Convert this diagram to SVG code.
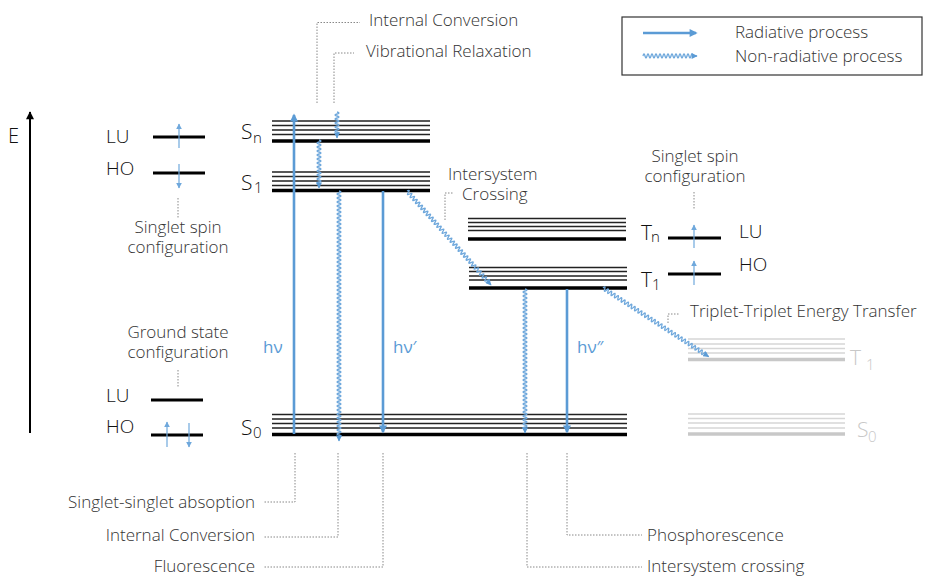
<svg xmlns="http://www.w3.org/2000/svg" width="927" height="577" viewBox="0 0 927 577">
<style>
text{font-family:"Open Sans","Liberation Sans",sans-serif;font-weight:300;fill:#333;font-size:17px}
.lbl{font-size:19px;fill:#111}
.st{font-size:21px;fill:#111}
.sub{font-size:15px}
.hv{fill:#5b9bd5;font-weight:400}
.grey{fill:#c8c8c8}
.thin{stroke:#222;stroke-width:1.3;fill:none}
.thick{stroke:#000;stroke-width:3.3;fill:none}
.gthin{stroke:#d6d6d6;stroke-width:1.3;fill:none}
.gthick{stroke:#c8c8c8;stroke-width:3.3;fill:none}
.lvl{stroke:#000;stroke-width:3;fill:none}
.rad{stroke:#5b9bd5;stroke-width:2.6;fill:none;marker-end:url(#ah)}
.wave{stroke:#6fa8dc;stroke-width:1.3;fill:none;marker-end:url(#wh)}
.spin{stroke:#6fa8dc;stroke-width:1.2;fill:none;marker-end:url(#sh)}
.lead{stroke:#888;stroke-width:1;stroke-dasharray:1.5 1.5;fill:none}
</style>
<defs>
<marker id="ah" viewBox="0 0 10 10" refX="8" refY="5" markerWidth="9" markerHeight="8" markerUnits="userSpaceOnUse" orient="auto"><path d="M0,0L10,5L0,10z" fill="#5b9bd5"/></marker>
<marker id="wh" viewBox="0 0 10 10" refX="9" refY="5" markerWidth="7" markerHeight="6" markerUnits="userSpaceOnUse" orient="auto"><path d="M0,0L10,5L0,10z" fill="#5b9bd5"/></marker>
<marker id="sh" viewBox="0 0 10 10" refX="9" refY="5" markerWidth="6" markerHeight="6" markerUnits="userSpaceOnUse" orient="auto"><path d="M0,0L10,5L0,10z" fill="#6fa8dc"/></marker>
<marker id="eh" viewBox="0 0 10 10" refX="9" refY="5" markerWidth="10" markerHeight="8" markerUnits="userSpaceOnUse" orient="auto"><path d="M0,0L10,5L0,10z" fill="#000"/></marker>
<path id="w126" class="wave" d="M0,0q1,-4 2,0t2,0 2,0 2,0 2,0 2,0 2,0 2,0 2,0 2,0 2,0 2,0 2,0 2,0 2,0 2,0 2,0 2,0 2,0 2,0 2,0 2,0 2,0 2,0 2,0 2,0 2,0 2,0 2,0 2,0 2,0 2,0 2,0 2,0 2,0 2,0 2,0 2,0 2,0 2,0 2,0 2,0 2,0 2,0 2,0 2,0 2,0 2,0 2,0 2,0 2,0 2,0 2,0 2,0 2,0 2,0 2,0 2,0 2,0 2,0 2,0l4,0"/>
</defs>

<g id="legend">
<rect x="622" y="17" width="300" height="58" fill="#fff" stroke="#333" stroke-width="1.2"/>
<line class="rad" x1="643" y1="33" x2="696" y2="33"/>
<path class="wave" transform="translate(643,56)" d="M0,0q1,-4 2,0t2,0 2,0 2,0 2,0 2,0 2,0 2,0 2,0 2,0 2,0 2,0 2,0 2,0 2,0 2,0 2,0 2,0 2,0 2,0 2,0 2,0 2,0 2,0 2,0l4,0"/>
<text x="735" y="38">Radiative process</text>
<text x="735" y="62">Non-radiative process</text>
</g>

<g id="energy-axis">
<line x1="30" y1="433" x2="30" y2="112" stroke="#000" stroke-width="2" marker-end="url(#eh)"/>
<text class="lbl" x="8" y="143" style="font-size:20px">E</text>
</g>

<g id="singlet-config">
<text class="lbl" x="106" y="143">LU</text>
<text class="lbl" x="106" y="175">HO</text>
<path class="lvl" d="M153,137H205M153,173H205"/>
<line class="spin" x1="179" y1="148" x2="179" y2="124"/>
<line class="spin" x1="179" y1="164" x2="179" y2="188"/>
<text x="178" y="233" text-anchor="middle">Singlet spin</text>
<text x="178" y="253" text-anchor="middle">configuration</text>
</g>

<g id="ground-config">
<text x="178" y="338" text-anchor="middle">Ground state</text>
<text x="178" y="358" text-anchor="middle">configuration</text>
<text class="lbl" x="106" y="402">LU</text>
<text class="lbl" x="106" y="433">HO</text>
<path class="lvl" d="M151,400H203M151,435H203"/>
<line class="spin" x1="167" y1="447" x2="167" y2="422"/>
<line class="spin" x1="189" y1="423" x2="189" y2="447"/>
</g>

<g id="Sn">
<path class="thin" d="M272,121H430M272,125.5H430M272,130H430M272,134.5H430"/>
<path class="thick" d="M272,141H430"/>
<text class="st" x="241" y="139">S</text><text class="st sub" x="253" y="143">n</text>
</g>

<g id="S1">
<path class="thin" d="M272,172H430M272,176.5H430M272,181H430M272,185.5H430"/>
<path class="thick" d="M272,190.5H430"/>
<text class="st" x="241" y="190">S</text><text class="st sub" x="254" y="193">1</text>
</g>

<g id="S0">
<path class="thin" d="M272,414.5H627M272,419H627M272,423.5H627M272,428H627"/>
<path class="thick" d="M272,434.5H627"/>
<text class="st" x="241" y="435">S</text><text class="st sub" x="253" y="438">0</text>
</g>

<g id="Tn">
<path class="thin" d="M468,218.5H626M468,222.5H626M468,226.5H626M468,230.5H626"/>
<path class="thick" d="M468,239H626"/>
<text class="st" x="641" y="240">T</text><text class="st sub" x="651" y="242">n</text>
</g>

<g id="T1">
<path class="thin" d="M469,267.5H627M469,271.5H627M469,276H627M469,280H627"/>
<path class="thick" d="M469,288H627"/>
<text class="st" x="641" y="287">T</text><text class="st sub" x="652" y="290">1</text>
</g>

<g id="triplet-config">
<text x="695" y="162" text-anchor="middle">Singlet spin</text>
<text x="695" y="182" text-anchor="middle">configuration</text>
<path class="lvl" d="M668,238H721M668,274H721"/>
<line class="spin" x1="694" y1="248" x2="694" y2="225"/>
<line class="spin" x1="694" y1="285" x2="694" y2="261"/>
<text class="lbl" x="739" y="238">LU</text>
<text class="lbl" x="739" y="271">HO</text>
</g>

<g id="acceptor-T1">
<path class="gthin" d="M688,339H845M688,344H845M688,348.5H845M688,353H845"/>
<path class="gthick" d="M688,359.5H845"/>
<text class="st grey" x="850" y="365">T</text><text class="st sub grey" x="866" y="370">1</text>
</g>

<g id="acceptor-S0">
<path class="gthin" d="M688,414H845M688,418.5H845M688,423H845M688,428H845"/>
<path class="gthick" d="M688,434H845"/>
<text class="st grey" x="857" y="437">S</text><text class="st sub grey" x="868" y="442">0</text>
</g>

<g id="labels">
<text class="hv" x="263" y="353">hν</text>
<text class="hv" x="393" y="353">hν′</text>
<text class="hv" x="577" y="353">hν″</text>
<text x="369" y="26">Internal Conversion</text>
<text x="366" y="57">Vibrational Relaxation</text>
<text x="448" y="180">Intersystem</text>
<text x="462" y="200">Crossing</text>
<text x="690" y="317">Triplet-Triplet Energy Transfer</text>
<text x="255" y="508" text-anchor="end">Singlet-singlet absoption</text>
<text x="255" y="541" text-anchor="end">Internal Conversion</text>
<text x="255" y="572" text-anchor="end">Fluorescence</text>
<text x="647" y="541">Phosphorescence</text>
<text x="647" y="572">Intersystem crossing</text>
</g>

<g id="connectors">
<line class="rad" x1="294" y1="434" x2="294" y2="115"/>
<line class="rad" x1="383" y1="191" x2="383" y2="432"/>
<line class="rad" x1="567" y1="289" x2="567" y2="432"/>
<path class="wave" transform="translate(337,112) rotate(90)" d="M0,0q1,-4 2,0t2,0 2,0 2,0 2,0 2,0 2,0 2,0 2,0 2,0 2,0l4,0"/>
<path class="wave" transform="translate(319,140) rotate(90)" d="M0,0q1,-4 2,0t2,0 2,0 2,0 2,0 2,0 2,0 2,0 2,0 2,0 2,0 2,0 2,0 2,0 2,0 2,0 2,0 2,0 2,0 2,0 2,0 2,0l4,0"/>
<path class="wave" transform="translate(339,191) rotate(90)" d="M0,0q1,-4 2,0t2,0 2,0 2,0 2,0 2,0 2,0 2,0 2,0 2,0 2,0 2,0 2,0 2,0 2,0 2,0 2,0 2,0 2,0 2,0 2,0 2,0 2,0 2,0 2,0 2,0 2,0 2,0 2,0 2,0 2,0 2,0 2,0 2,0 2,0 2,0 2,0 2,0 2,0 2,0 2,0 2,0 2,0 2,0 2,0 2,0 2,0 2,0 2,0 2,0 2,0 2,0 2,0 2,0 2,0 2,0 2,0 2,0 2,0 2,0 2,0 2,0 2,0 2,0 2,0 2,0 2,0 2,0 2,0 2,0 2,0 2,0 2,0 2,0 2,0 2,0 2,0 2,0 2,0 2,0 2,0 2,0 2,0 2,0 2,0 2,0 2,0 2,0 2,0 2,0 2,0 2,0 2,0 2,0 2,0 2,0 2,0 2,0 2,0 2,0 2,0 2,0 2,0 2,0 2,0 2,0 2,0 2,0 2,0 2,0 2,0 2,0 2,0 2,0 2,0 2,0 2,0 2,0 2,0 2,0 2,0 2,0 2,0l4,0"/>
<path class="wave" transform="translate(525,289) rotate(90)" d="M0,0q1,-4 2,0t2,0 2,0 2,0 2,0 2,0 2,0 2,0 2,0 2,0 2,0 2,0 2,0 2,0 2,0 2,0 2,0 2,0 2,0 2,0 2,0 2,0 2,0 2,0 2,0 2,0 2,0 2,0 2,0 2,0 2,0 2,0 2,0 2,0 2,0 2,0 2,0 2,0 2,0 2,0 2,0 2,0 2,0 2,0 2,0 2,0 2,0 2,0 2,0 2,0 2,0 2,0 2,0 2,0 2,0 2,0 2,0 2,0 2,0 2,0 2,0 2,0 2,0 2,0 2,0 2,0 2,0 2,0 2,0 2,0l4,0"/>
<use href="#w126" transform="translate(407,191) rotate(48.2)"/>
<use href="#w126" transform="translate(603,288) rotate(33)"/>
<path class="lead" d="M317,103V22.5H360"/>
<path class="lead" d="M334,103V53H354"/>
<path class="lead" d="M445,220V193H453"/>
<path class="lead" d="M668,323V314H680"/>
<path class="lead" d="M178,198V218"/>
<path class="lead" d="M178,370V387"/>
<path class="lead" d="M694,192V210"/>
<path class="lead" d="M295,453V502H263"/>
<path class="lead" d="M338,453V537H263"/>
<path class="lead" d="M383,453V567H263"/>
<path class="lead" d="M527,453V567H642"/>
<path class="lead" d="M567,453V535H642"/>
</g>
</svg>
